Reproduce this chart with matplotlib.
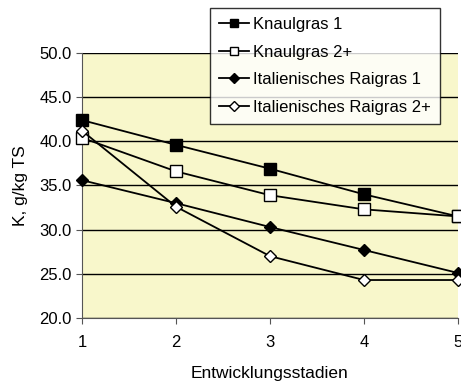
import matplotlib.pyplot as plt
import numpy as np

plt.rcParams['font.family'] = ['Liberation Sans', 'DejaVu Sans']

# Entwicklungsstadien und K-Gehalte (g/kg TS)
stadien = [1, 2, 3, 4, 5]
knaulgras_1 = [42.4, 39.6, 36.9, 34.0, 31.5]
knaulgras_2 = [40.4, 36.6, 33.9, 32.3, 31.5]
raigras_1 = [35.6, 33.0, 30.3, 27.7, 25.1]
raigras_2 = [41.2, 32.6, 27.0, 24.3, 24.3]

yticks = [20.0, 25.0, 30.0, 35.0, 40.0, 45.0, 50.0]

fig = plt.figure(figsize=(4.61, 3.85), dpi=100)
ax = fig.add_axes([82/461, 67/385, 376/461, 265/385])
ax.set_facecolor('#f8f7cb')

ax.plot(stadien, knaulgras_1, '-s', color='black', lw=1.3, ms=8,
        mfc='black', mec='black', label='Knaulgras 1', clip_on=False, zorder=3)
ax.plot(stadien, knaulgras_2, '-s', color='black', lw=1.3, ms=8,
        mfc='white', mec='black', label='Knaulgras 2+', clip_on=False, zorder=3)
ax.plot(stadien, raigras_1, '-D', color='black', lw=1.3, ms=6.5,
        mfc='black', mec='black', label='Italienisches Raigras 1', clip_on=False, zorder=3)
ax.plot(stadien, raigras_2, '-D', color='black', lw=1.3, ms=6.5,
        mfc='white', mec='black', label='Italienisches Raigras 2+', clip_on=False, zorder=3)

ax.set_xlim(1, 5)
ax.set_ylim(20, 50)
ax.set_xticks(stadien)
ax.set_yticks(yticks)
ax.set_yticklabels(['%.1f' % v for v in yticks])
ax.grid(True, axis='y', color='black', lw=1.0)
ax.set_axisbelow(True)

for side in ['top', 'right']:
    ax.spines[side].set_visible(False)
ax.spines['left'].set_color('#555555')
ax.spines['bottom'].set_color('#555555')
ax.tick_params(axis='both', labelsize=12, length=4, color='#555555')
ax.tick_params(axis='x', pad=8)

ax.set_xlabel('Entwicklungsstadien', fontsize=12.5, labelpad=12)
ax.set_ylabel('K, g/kg TS', fontsize=12.5, labelpad=8)

leg = ax.legend(loc='upper left', bbox_to_anchor=(210/461, 1 - 8/385),
                bbox_transform=fig.transFigure, frameon=True, fancybox=False,
                fontsize=12, handlelength=1.8, handletextpad=0.2,
                labelspacing=0.75, borderpad=0.55, borderaxespad=0,
                markerscale=0.8)
leg.get_frame().set_edgecolor('black')
leg.get_frame().set_linewidth(1.0)
leg.set_zorder(5)

plt.savefig('out.png', dpi=100)
